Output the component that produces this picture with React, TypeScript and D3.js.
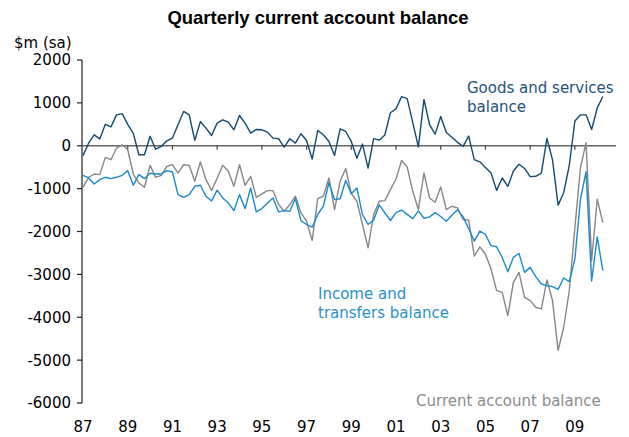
import React from 'react';
import * as d3 from 'd3';

const startYear = 1987;

// Goods and services balance, $m, quarterly from Mar 1987
const goods = [
  -230, 60, 255, 160, 500, 440, 720, 750, 500, 290, -210, -210, 220, -80, -15, 115,
  180, 490, 800, 720, 125, 565, 410, 240, 527, 605, 550, 372, 705, 527, 295, 380,
  372, 318, 178, 163, -31, 163, 62, 280, 124, -310, 357, 256, 100, -225, 395, 333,
  100, -290, 40, -520, 165, 130, 250, 770, 860, 1147, 1100, 540, -25, 1080, 495, 271,
  682, 310, 200, 80, -15, 225, -325, -375, -505, -635, -1040, -752, -950, -590, -430, -530,
  -720, -713, -640, 170, -330, -1385, -1095, -460, 578, 721, 721, 380, 880, 1150,
];

// Income and transfers balance, $m
const income = [
  -690, -752, -891, -790, -736, -767, -736, -690, -581, -922, -674, -767, -643, -659, -659, -581,
  -612, -1140, -1202, -1140, -946, -922, -1178, -1287, -1035, -1217, -1333, -1512, -1140, -1465, -985, -1543,
  -1465, -1333, -1217, -1543, -1512, -1527, -1230, -1750, -1837, -1900, -1600, -1411, -860, -1256, -1235, -810,
  -1120, -985, -1605, -1837, -1730, -1380, -1566, -1744, -1560, -1500, -1600, -1700, -1520, -1690, -1660, -1560,
  -1650, -1760, -1620, -1490, -1660, -1930, -2225, -1990, -2070, -2330, -2357, -2605, -2938, -2605, -2512, -2953,
  -2837, -3054, -3225, -3264, -3287, -3349, -3085, -3171, -2643, -1248, -605, -3155, -2127, -2915,
];

// Current account balance, $m
const current = [
  -969, -736, -659, -674, -271, -326, -54, 23, -93, -659, -868, -969, -457, -736, -690, -481,
  -442, -636, -442, -457, -829, -380, -791, -1040, -760, -457, -597, -946, -442, -922, -713, -1202,
  -1124, -1047, -1047, -1372, -1527, -1372, -1178, -1566, -1760, -2209, -1233, -1178, -752, -1488, -829, -530,
  -1110, -1295, -1837, -2380, -1605, -1295, -1279, -1023, -775, -341, -496, -1062, -1488, -636, -1217, -1318,
  -961, -1488, -1411, -1450, -1721, -1736, -2574, -2357, -2530, -2876, -3380, -3419, -3961, -3186, -2953, -3535,
  -3612, -3767, -3806, -3132, -3612, -4775, -4233, -3380, -1907, -512, 70, -2682, -1248, -1791,
];

const xTickYears = [1987, 1989, 1991, 1993, 1995, 1997, 1999, 2001, 2003, 2005, 2007, 2009];
const xTickLabels = ['87', '89', '91', '93', '95', '97', '99', '01', '03', '05', '07', '09'];
const yTicks = [2000, 1000, 0, -1000, -2000, -3000, -4000, -5000, -6000];

const FONT = "'DejaVu Sans', Verdana, sans-serif";

export default function App() {
  const W = 629;
  const H = 437;
  const x = d3.scaleLinear().domain([1987, 2011]).range([83, 619.6]);
  const y = d3.scaleLinear().domain([-6000, 2000]).range([403, 60]);
  const t = (i: number) => startYear + i / 4;
  const line = d3
    .line<number>()
    .x((_, i) => x(t(i)))
    .y((d) => y(d));

  const axisX = 82;

  return (
    <svg
      width={W}
      height={H}
      style={{ position: 'fixed', left: 0, top: 0, background: '#fff' }}
      viewBox={`0 0 ${W} ${H}`}
    >
      <rect x={0} y={0} width={W} height={H} fill="#fff" />
      <text
        x={318}
        y={24}
        textAnchor="middle"
        fontFamily="'Liberation Sans', Arial, sans-serif"
        fontWeight="bold"
        fontSize={18.5}
        fill="#000"
      >
        Quarterly current account balance
      </text>
      <text x={14} y={48} fontFamily={FONT} fontSize={15} fill="#000">
        $m (sa)
      </text>

      {/* y axis */}
      <line x1={axisX} x2={axisX} y1={y(2000)} y2={y(-6000)} stroke="#222" strokeWidth={1.2} />
      {yTicks.map((v) => (
        <g key={v}>
          <line x1={axisX - 5} x2={axisX} y1={y(v)} y2={y(v)} stroke="#222" strokeWidth={1.2} />
          <text
            x={71}
            y={y(v)}
            dy="0.36em"
            textAnchor="end"
            fontFamily={FONT}
            fontSize={15}
            fill="#000"
          >
            {v < 0 ? `-${Math.abs(v)}` : `${v}`}
          </text>
        </g>
      ))}

      {/* zero line with year ticks */}
      <line x1={axisX} x2={616} y1={y(0)} y2={y(0)} stroke="#666" strokeWidth={1.5} />
      {xTickYears.map((yr, k) => (
        <g key={yr}>
          {k > 0 && (
            <line x1={x(yr)} x2={x(yr)} y1={y(0)} y2={y(0) + 4} stroke="#444" strokeWidth={1.2} />
          )}
          <text
            x={x(yr)}
            y={432}
            textAnchor="middle"
            fontFamily={FONT}
            fontSize={15}
            fill="#000"
          >
            {xTickLabels[k]}
          </text>
        </g>
      ))}

      {/* series */}
      <path d={line(current) || ''} fill="none" stroke="#878787" strokeWidth={1.4} strokeLinejoin="round" />
      <path d={line(income) || ''} fill="none" stroke="#1a8ac8" strokeWidth={1.4} strokeLinejoin="round" />
      <path d={line(goods) || ''} fill="none" stroke="#134a70" strokeWidth={1.4} strokeLinejoin="round" />

      {/* annotations */}
      <text fontFamily={FONT} fontSize={15} fill="#1f5479">
        <tspan x={467} y={93}>Goods and services</tspan>
        <tspan x={467} y={112}>balance</tspan>
      </text>
      <text fontFamily={FONT} fontSize={15} fill="#2a90c9">
        <tspan x={318} y={299}>Income and</tspan>
        <tspan x={318} y={318}>transfers balance</tspan>
      </text>
      <text x={416} y={406} fontFamily={FONT} fontSize={15} fill="#8c8c8c">
        Current account balance
      </text>
    </svg>
  );
}
